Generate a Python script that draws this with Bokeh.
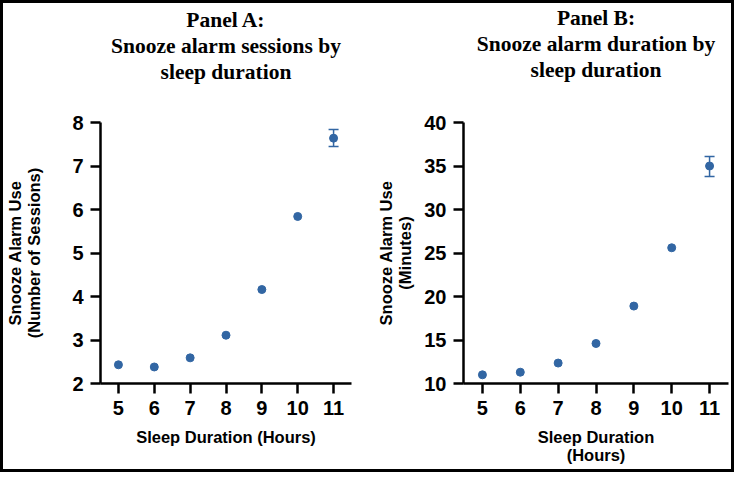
from bokeh.plotting import figure
from bokeh.models import Range1d, FixedTicker, ColumnDataSource, Whisker, TeeHead, Title
from bokeh.layouts import row
from bokeh.embed import file_html
from bokeh.resources import INLINE

# ---- data ----
sleep_hours = [5, 6, 7, 8, 9, 10, 11]
sessions = [2.43, 2.38, 2.59, 3.11, 4.16, 5.84, 7.64]
minutes = [11.0, 11.3, 12.35, 14.6, 18.9, 25.6, 35.0]

# visible error bars (only the 11-hour group has bars wider than the dot)
err_hours = [11]
sessions_lo = [7.45]
sessions_hi = [7.84]
minutes_lo = [33.8]
minutes_hi = [36.1]

x_ticks = [5, 6, 7, 8, 9, 10, 11]
a_ticks = [2, 3, 4, 5, 6, 7, 8]
b_ticks = [10, 15, 20, 25, 30, 35, 40]

titles_a = ["Panel A:", "Snooze alarm sessions by", "sleep duration"]
titles_b = ["Panel B:", "Snooze alarm duration by", "sleep duration"]
x_labels = ["Sleep Duration (Hours)", "Sleep Duration\n(Hours)"]
y_labels = ["Snooze Alarm Use\n(Number of Sessions)", "Snooze Alarm Use\n(Minutes)"]

DOT = "#3266a3"
SANS = "Liberation Sans"
SERIF = "Liberation Serif"


def make_panel(title_lines, title_gap, xlab, ylab, yvals, lo, hi, yr, yt, border_left,
               border_right, border_top, border_bottom, ylab_standoff, width):
    p = figure(width=width, height=466, output_backend="svg", toolbar_location=None,
               x_range=Range1d(4.5, 11.5), y_range=Range1d(*yr),
               min_border_left=border_left, min_border_right=border_right,
               min_border_top=border_top, min_border_bottom=border_bottom)
    # title lines: first added sits nearest the frame; padding is (l, r, t, b)
    pads = [title_gap, 0, 0]
    for i, line in enumerate(reversed(title_lines)):
        t = Title(text=line, align="center", text_font=SERIF, text_font_size="21.5px",
                  text_font_style="bold", text_color="black", standoff=0,
                  text_line_height=0.6, padding=(0, 0, 0, pads[i]))
        p.add_layout(t, "above")

    p.outline_line_color = None
    p.grid.visible = False
    p.background_fill_color = "white"
    p.border_fill_color = "white"

    for ax in (p.xaxis[0], p.yaxis[0]):
        ax.axis_line_width = 2.5
        ax.axis_line_color = "black"
        ax.major_tick_line_width = 2.5
        ax.major_tick_line_color = "black"
        ax.major_tick_in = 0
        ax.major_tick_out = 10
        ax.minor_tick_out = 0
        ax.minor_tick_in = 0
        ax.major_label_text_font = SANS
        ax.major_label_text_font_size = "20px"
        ax.major_label_text_font_style = "bold"
        ax.major_label_text_color = "black"
        ax.axis_label_text_font = SANS
        ax.axis_label_text_font_size = "16.5px"
        ax.axis_label_text_font_style = "bold"
        ax.axis_label_text_color = "black"
        ax.axis_label_text_line_height = 1.05
        ax.major_label_standoff = 7

    p.xaxis.ticker = FixedTicker(ticks=x_ticks)
    p.yaxis.ticker = FixedTicker(ticks=yt)
    p.xaxis.axis_label = xlab
    p.yaxis.axis_label = ylab
    p.xaxis.axis_label_standoff = 10
    p.yaxis.axis_label_standoff = ylab_standoff

    src = ColumnDataSource(dict(x=sleep_hours, y=yvals))
    p.scatter("x", "y", source=src, size=8, fill_color=DOT, line_color=DOT)

    esrc = ColumnDataSource(dict(x=err_hours, lo=lo, hi=hi))
    w = Whisker(base="x", lower="lo", upper="hi", source=esrc,
                line_color=DOT, line_width=1.5,
                upper_head=TeeHead(size=10, line_color=DOT, line_width=1.5),
                lower_head=TeeHead(size=10, line_color=DOT, line_width=1.5))
    p.add_layout(w)
    return p


p1 = make_panel(titles_a, 39, x_labels[0], y_labels[0], sessions, sessions_lo, sessions_hi,
                (2, 8), a_ticks, 92, 16, 116, 86, 26, 364)
p2 = make_panel(titles_b, 41, x_labels[1], y_labels[1], minutes, minutes_lo, minutes_hi,
                (10, 40), b_ticks, 96, 3, 118, 85, 7, 364)

lay = row(p1, p2, styles={"border": "3px solid black"})

open("out.html", "w").write(file_html(lay, INLINE))
